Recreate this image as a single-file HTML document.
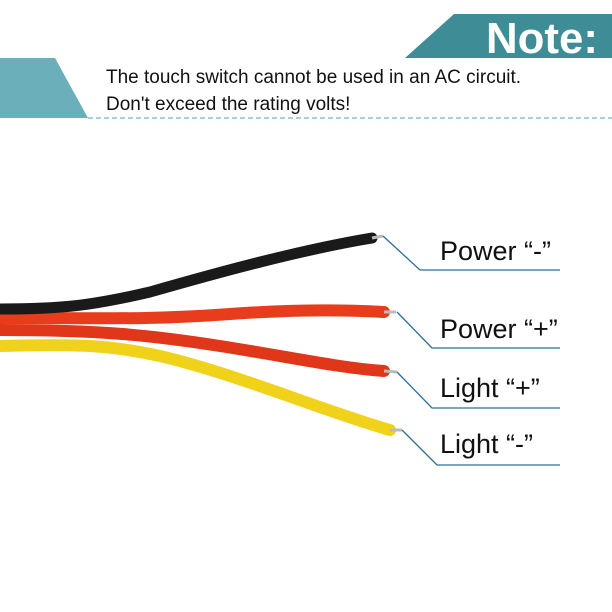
<!DOCTYPE html>
<html><head><style>body{margin:0;background:#fff}svg{display:block}</style></head><body>
<svg width="612" height="612" viewBox="0 0 612 612" xmlns="http://www.w3.org/2000/svg">
<polygon points="405,58 454,14 612,14 612,58" fill="#3d8c96"/>
<text x="598" y="53" text-anchor="end" font-family="Liberation Sans, sans-serif" font-weight="bold" font-size="44" fill="#fff" textLength="112" lengthAdjust="spacingAndGlyphs">Note:</text>
<polygon points="0,58 55,58 88,118 0,118" fill="#6aafb9"/>
<line x1="88" y1="118" x2="612" y2="118" stroke="#8cc4cc" stroke-width="1.5" stroke-dasharray="5,3"/>
<text font-family="Liberation Sans, sans-serif" font-size="19" fill="#111"><tspan x="106" y="83">The touch switch cannot be used in an AC circuit.</tspan><tspan x="106" y="110">Don't exceed the rating volts!</tspan></text>
<g fill="none" stroke-linecap="round">
<path d="M0,346 C80,344 110,345 160,356 C240,375 320,410 390,430" stroke="#f1d21b" stroke-width="12"/>
<path d="M0,330 C100,330 150,335 220,346 C290,357 340,368 384,371" stroke="#e0361a" stroke-width="12"/>
<path d="M0,318 C100,318 150,320 230,314 C300,309 350,310 384,312" stroke="#e83d1c" stroke-width="12"/>
<path d="M0,309 C60,309 90,306 150,292 C220,272 300,250 372,238" stroke="#1a1a1a" stroke-width="11"/>
</g>
<g stroke="#bbb" stroke-width="3"><line x1="372" y1="238" x2="383" y2="236"/><line x1="384" y1="312" x2="396" y2="312"/><line x1="384" y1="371" x2="397" y2="372"/><line x1="390" y1="430" x2="402" y2="430"/></g>
<g fill="none" stroke="#2c6e9a" stroke-width="1.3">
<polyline points="383,236 420,270 560,270"/>
<polyline points="397,312 432,348 560,348"/>
<polyline points="397,372 432,408 560,408"/>
<polyline points="402,430 437,465 560,465"/>
</g>
<g font-family="Liberation Sans, sans-serif" font-size="27" fill="#111">
<text x="440" y="260">Power “-”</text>
<text x="440" y="338">Power “+”</text>
<text x="440" y="397">Light “+”</text>
<text x="440" y="453">Light “-”</text>
</g>
</svg>
</body></html>
